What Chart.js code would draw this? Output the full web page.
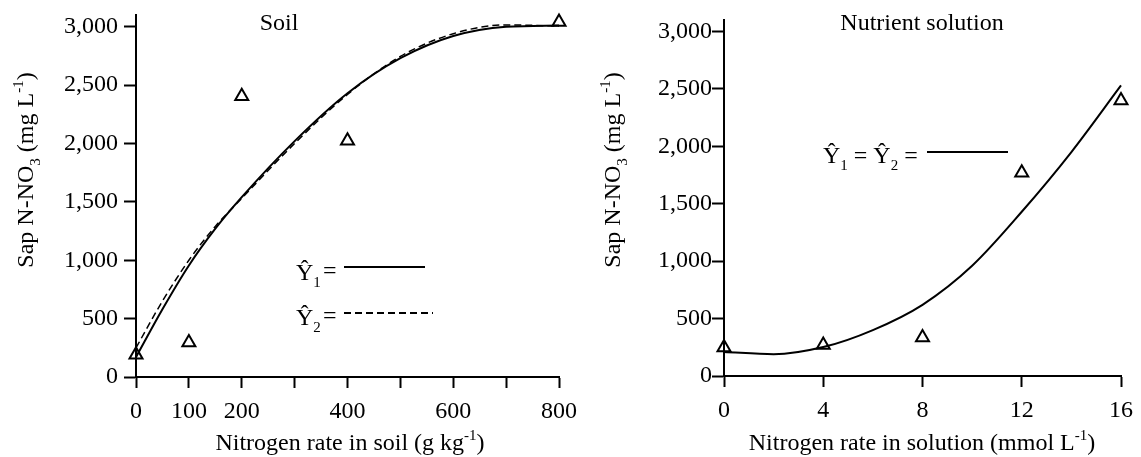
<!DOCTYPE html>
<html>
<head>
<meta charset="utf-8">
<script src="https://cdn.jsdelivr.net/npm/chart.js@4.4.1/dist/chart.umd.min.js"></script>
<style>
  html, body { margin: 0; padding: 0; background: #fff; }
  #wrap { position: relative; width: 1141px; height: 457px; overflow: hidden; }
  canvas { position: absolute; top: 0; }
  #soil { left: 0; }
  #solution { left: 570px; }
</style>
</head>
<body>
<div id="wrap">
  <canvas id="soil" width="600" height="457"></canvas>
  <canvas id="solution" width="571" height="457"></canvas>
</div>
<script>
// SOIL PANEL
const soilRates = [0, 100, 200, 400, 800];
const soilObserved = [190, 296, 2404, 2023, 3039];
const soilFitX = [0, 50, 100, 150, 200, 300, 400, 500, 600, 700, 800];
const soilFitY1 = [170, 580, 955, 1270, 1540, 2020, 2430, 2730, 2920, 3000, 3010];
const soilFitY2 = [250, 650, 1000, 1290, 1530, 2000, 2420, 2745, 2940, 3015, 3005];
const soilXTicks = [0, 100, 200, 300, 400, 500, 600, 700, 800];
const soilXLabels = ['0', '100', '200', '', '400', '', '600', '', '800'];

// NUTRIENT SOLUTION PANEL
const solRates = [0, 4, 8, 12, 16];
const solObserved = [248, 270, 336, 1770, 2398];
const solFitX = [0, 2, 4, 6, 8, 10, 12, 14, 16];
const solFitY = [210, 190, 252, 400, 620, 960, 1430, 1950, 2530];
const solXTicks = [0, 4, 8, 12, 16];
const solXLabels = ['0', '4', '8', '12', '16'];

// shared y axis
const yTicks = [0, 500, 1000, 1500, 2000, 2500, 3000];
const yLabels = ['0', '500', '1,000', '1,500', '2,000', '2,500', '3,000'];

const FONT = "'Liberation Serif', 'Times New Roman', serif";
Chart.defaults.font.family = FONT;
Chart.defaults.font.size = 24;
Chart.defaults.color = '#000';

// draws text with sub / superscripts
function drawRich(ctx, parts, x, y, size, align) {
    const fontOf = p => (p[1] === 'n' ? size : Math.round(size * 0.64)) + 'px ' + FONT;
    let w = 0;
    parts.forEach(p => { ctx.font = fontOf(p); w += ctx.measureText(p[0]).width; });
    let cx = align === 'center' ? x - w / 2 : x;
    ctx.textAlign = 'left';
    ctx.textBaseline = 'alphabetic';
    parts.forEach(p => {
        ctx.font = fontOf(p);
        const dy = p[1] === 'sub' ? size * 0.28 : (p[1] === 'sup' ? -size * 0.42 : 0);
        ctx.fillText(p[0], cx, y + dy);
        cx += ctx.measureText(p[0]).width;
    });
    return cx;
}

const yTitle = [['Sap N-NO', 'n'], ['3', 'sub'], [' (mg L', 'n'], ['-1', 'sup'], [')', 'n']];

function drawYTitle(ctx, x, y) {
    ctx.save();
    ctx.translate(x, y);
    ctx.rotate(-Math.PI / 2);
    drawRich(ctx, yTitle, 0, 0, 24, 'center');
    ctx.restore();
}

function legendLine(ctx, x1, x2, y, dash) {
    ctx.save();
    ctx.strokeStyle = '#000';
    ctx.lineWidth = 2;
    ctx.setLineDash(dash);
    ctx.beginPath();
    ctx.moveTo(x1, y);
    ctx.lineTo(x2, y);
    ctx.stroke();
    ctx.restore();
}

// the layout padding alone decides where the plot area sits
function noScalePadding(s) {
    s.paddingTop = 0; s.paddingBottom = 0; s.paddingLeft = 0; s.paddingRight = 0;
}

function axisScales(xMin, xMax, xTicks, xLabels, xHeight, yWidth, yPad) {
    return {
        x: {
            type: 'linear', min: xMin, max: xMax,
            afterFit: s => { s.height = xHeight; noScalePadding(s); },
            afterBuildTicks: s => { s.ticks = xTicks.map(v => ({ value: v })); },
            ticks: { callback: (v, i) => xLabels[i], maxRotation: 0, autoSkip: false, padding: 9 },
            grid: { drawOnChartArea: false, drawTicks: true, tickLength: 11, tickColor: '#000', tickWidth: 2 },
            border: { display: true, color: '#000', width: 2 }
        },
        y: {
            type: 'linear', min: 0, max: 3100,
            afterFit: s => { s.width = yWidth; noScalePadding(s); },
            afterBuildTicks: s => { s.ticks = yTicks.map(v => ({ value: v })); },
            ticks: { callback: (v, i) => yLabels[i], padding: yPad },
            grid: { drawOnChartArea: false, drawTicks: true, tickLength: 12, tickColor: '#000', tickWidth: 2 },
            border: { display: true, color: '#000', width: 2 }
        }
    };
}

function observedSet(xs, ys) {
    return {
        data: xs.map((x, i) => ({ x: x, y: ys[i] })),
        showLine: false, pointStyle: 'triangle', pointRadius: 7.5,
        borderColor: '#000', backgroundColor: 'rgba(0,0,0,0)', pointBorderWidth: 2, clip: false
    };
}

function fitSet(xs, ys, dash) {
    return {
        data: xs.map((x, i) => ({ x: x, y: ys[i] })),
        showLine: true, pointRadius: 0, borderColor: '#000', borderWidth: dash.length ? 1.5 : 2,
        borderDash: dash, cubicInterpolationMode: 'monotone', clip: false
    };
}

const common = {
    responsive: false,
    animation: false,
    devicePixelRatio: 1,
    plugins: { legend: { display: false }, tooltip: { enabled: false } }
};

// SOIL
new Chart(document.getElementById('soil'), {
    type: 'scatter',
    data: { datasets: [
        fitSet(soilFitX, soilFitY1, []),
        fitSet(soilFitX, soilFitY2, [7, 4]),
        observedSet(soilRates, soilObserved)
    ] },
    options: Object.assign({}, common, {
        layout: { padding: { left: 0, right: 41, top: 15, bottom: 0 } },
        scales: axisScales(0, 800, soilXTicks, soilXLabels, 80, 136, 6)
    }),
    plugins: [{
        id: 'soilText',
        afterDraw(chart) {
            const ctx = chart.ctx;
            ctx.save();
            ctx.fillStyle = '#000';
            drawRich(ctx, [['Soil', 'n']], 279, 30, 24, 'center');
            drawYTitle(ctx, 33, 170);
            drawRich(ctx, [['Nitrogen rate in soil (g kg', 'n'], ['-1', 'sup'], [')', 'n']], 350, 450, 24, 'center');
            // legend
            drawRich(ctx, [['Ŷ', 'n'], ['1', 'sub']], 296, 280, 24, 'left');
            drawRich(ctx, [['=', 'n']], 323, 278, 24, 'left');
            legendLine(ctx, 344, 425, 267, []);
            drawRich(ctx, [['Ŷ', 'n'], ['2', 'sub']], 296, 325, 24, 'left');
            drawRich(ctx, [['=', 'n']], 323, 323, 24, 'left');
            legendLine(ctx, 344, 433, 313, [7, 4]);
            ctx.restore();
        }
    }]
});

// NUTRIENT SOLUTION
new Chart(document.getElementById('solution'), {
    type: 'scatter',
    data: { datasets: [
        fitSet(solFitX, solFitY, []),
        observedSet(solRates, solObserved)
    ] },
    options: Object.assign({}, common, {
        layout: { padding: { left: 0, right: 20, top: 20, bottom: 0 } },
        scales: axisScales(0, 16, solXTicks, solXLabels, 81, 154, 0)
    }),
    plugins: [{
        id: 'solText',
        afterDraw(chart) {
            const ctx = chart.ctx;
            ctx.save();
            ctx.fillStyle = '#000';
            drawRich(ctx, [['Nutrient solution', 'n']], 352, 30, 24, 'center');
            drawYTitle(ctx, 50, 170);
            drawRich(ctx, [['Nitrogen rate in solution (mmol L', 'n'], ['-1', 'sup'], [')', 'n']], 352, 450, 24, 'center');
            drawRich(ctx, [['Ŷ', 'n'], ['1', 'sub'], [' = ', 'n'], ['Ŷ', 'n'], ['2', 'sub'], [' =', 'n']], 253, 163, 24, 'left');
            legendLine(ctx, 357, 438, 152, []);
            ctx.restore();
        }
    }]
});
</script>
</body>
</html>
